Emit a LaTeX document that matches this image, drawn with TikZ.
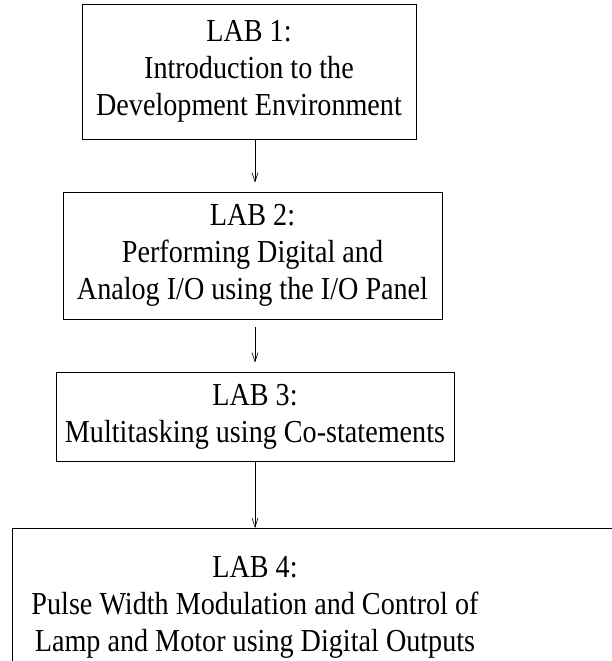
\documentclass[tikz,border=0pt]{standalone}
\usepackage{fontspec}
\setmainfont{Liberation Serif}[FakeStretch=0.88]
\usetikzlibrary{arrows.meta, positioning}

\begin{document}
\begin{tikzpicture}[x=1pt, y=-1pt,
      box/.style={rectangle, draw, align=center, inner sep=0pt,
                  line width=0.8pt, font=\fontsize{32}{37}\selectfont},
      txt/.style={align=center, inner sep=0pt, font=\fontsize{32}{37}\selectfont},
      arr/.style={-{Straight Barb[length=9pt, width=6pt]}, line width=0.6pt}
    ]
    \useasboundingbox (0,0) rectangle (611,661);

    \node[box, minimum width=334pt, minimum height=135pt] (lab1) at (249,71.7)
      {LAB 1:\\Introduction to the\\Development Environment};
    \node[box, minimum width=379pt, minimum height=127pt] (lab2) at (252.5,255.5)
      {LAB 2:\\Performing Digital and\\Analog I/O using the I/O Panel};
    \node[box, minimum width=398pt, minimum height=89pt] (lab3) at (255,416.5)
      {LAB 3:\\Multitasking using Co-statements};

    % last box runs off the page
    \node[box, minimum width=640pt, minimum height=160pt, anchor=north west] (frame4) at (12,528) {};
    \node[txt] (lab4) at (255,607)
      {LAB 4:\\Pulse Width Modulation and Control of\\Lamp and Motor using Digital Outputs};

    \draw[arr, shorten >=9pt] (lab1.south -| lab3) -- (lab2.north -| lab3);
    \draw[arr, shorten <=8pt, shorten >=9pt] (lab2.south -| lab3) -- (lab3.north);
    \draw[arr] (lab3.south) -- (frame4.north -| lab3);

  \end{tikzpicture}
\end{document}
